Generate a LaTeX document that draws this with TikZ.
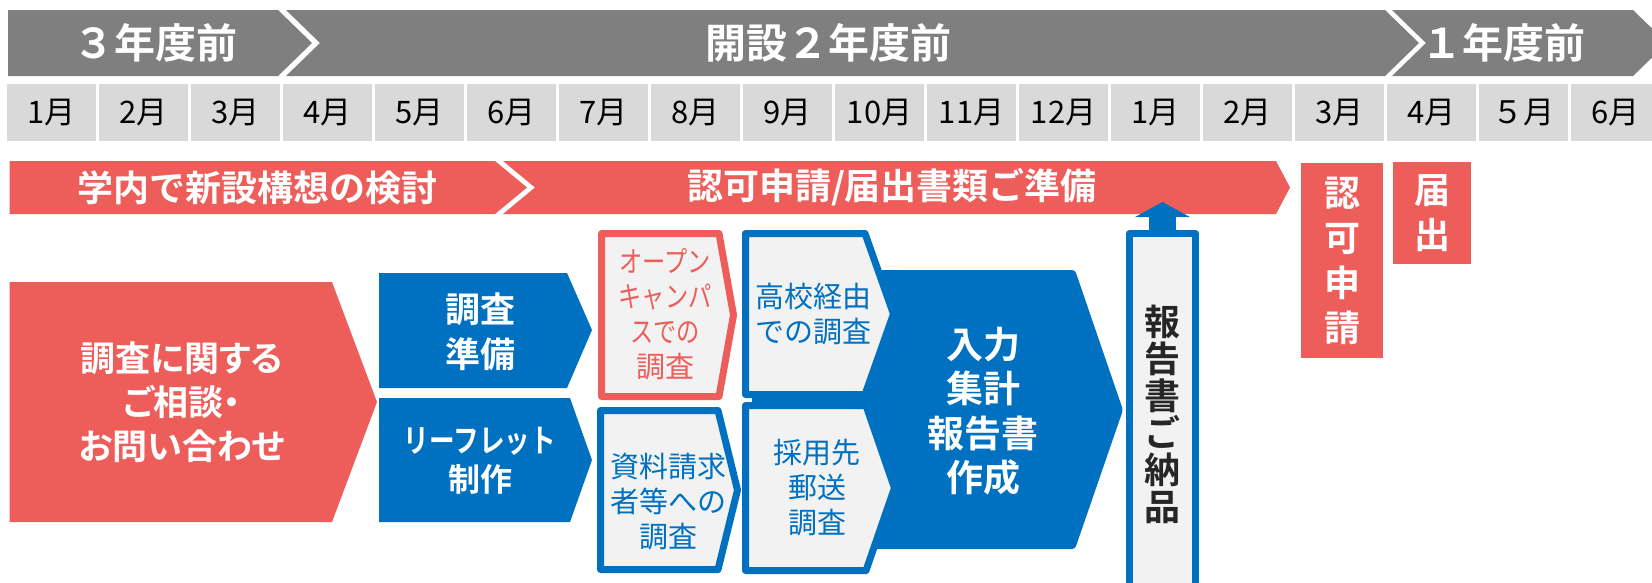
\documentclass[tikz,border=0pt]{standalone}
\usepackage{fontspec}
\setmainfont{Noto Sans CJK JP}[BoldFont={Noto Sans CJK JP Bold}]
\newfontfamily\propjp{Noto Sans CJK JP}[BoldFont={Noto Sans CJK JP Bold},
  Script=CJK,RawFeature=+palt]
\newfontfamily\narrowjp{Noto Sans CJK JP}[BoldFont={Noto Sans CJK JP Bold},
  FakeStretch=0.8]
\usetikzlibrary{arrows.meta}
\definecolor{bandgray}{HTML}{7F7F7F}
\definecolor{cellgray}{HTML}{D9D9D9}
\definecolor{sred}{HTML}{ED5E5A}
\definecolor{sblue}{HTML}{0070C0}
\definecolor{boxgray}{HTML}{F2F2F2}
\definecolor{inkdark}{HTML}{262626}
\begin{document}
\begin{tikzpicture}[x=1pt,y=-1pt,
    yearlabel/.style={text=white,font=\bfseries\fontsize{41}{41}\selectfont},
    monthcell/.style={fill=cellgray,minimum width=89pt,minimum height=57pt,inner sep=0pt,
      font=\fontsize{31}{31}\selectfont},
    bandlabel/.style={text=white,font=\bfseries\fontsize{36}{36}\selectfont},
    redbox/.style={fill=sred,text=white,inner sep=0pt,align=center,
      font=\bfseries\fontsize{36}{45}\selectfont},
    boldtext/.style={text=white,align=center,inner sep=0pt},
    thintext/.style={align=center,inner sep=0pt,font=\fontsize{29}{35}\selectfont},
    boxline/.style={fill=boxgray,line width=7pt,line join=round}]
  \useasboundingbox (0,0) rectangle (1652,582);

  \begin{scope}[bandgray]
    \fill (8,10) -- (278,10) -- (312,43) -- (278,76) -- (8,76) -- cycle;
    \fill (286,10) -- (1385,10) -- (1419,43) -- (1385,76) -- (286,76) --
          (320,43) -- cycle;
    \fill (1392,10) -- (1633,10) -- (1667,43) -- (1633,76) -- (1392,76) --
          (1426,43) -- cycle;
  \end{scope}
  \node[yearlabel] (y3) at (155,43) {３年度前};
  \node[yearlabel] (y2) at (828,43) {開設２年度前};
  \node[yearlabel] (y1) at (1503,43) {１年度前};

  \foreach \m [count=\i from 0] in {1月,2月,3月,4月,5月,6月,7月,8月,9月,
      10月,11月,12月,1月,2月,3月,4月,５月,6月}
    \node[monthcell] (m\i) at (51.5+92*\i,112.5) {\m};

  \begin{scope}[sred]
    \fill (9.5,161) -- (495,161) -- (527,187.5) -- (495,214) -- (9.5,214) -- cycle;
    \fill (503,161) -- (1276,161) -- (1290,187.5) -- (1276,214) -- (503,214) --
          (535,187.5) -- cycle;
  \end{scope}
  \node[bandlabel] (plan) at (257,187.5) {学内で新設構想の検討};
  \node[bandlabel] (docs) at (892,187.5) {認可申請/届出書類ご準備};
  \node[redbox,minimum width=82pt,minimum height=195pt] (kyoka) at (1342,260.5)
    {認\\可\\申\\請};
  \node[redbox,minimum width=78pt,minimum height=102pt] (todoke) at (1432,213)
    {届\\出};

  \fill[sred] (9.5,282) -- (332,282) -- (377,402) -- (332,522) -- (9.5,522) -- cycle;
  \node[boldtext,font=\propjp\bfseries\fontsize{35}{44}\selectfont] (soudan)
    at (182,402) {調査に関する\\ご相談・\\お問い合わせ};

  \begin{scope}[sblue]
    \fill (379,273) -- (567,273) -- (592,330) -- (567,388) -- (379,388) -- cycle;
    \fill (379,398) -- (570,398) -- (592,460) -- (570,522) -- (379,522) -- cycle;
    \fill[rounded corners=3pt] (752,270) -- (1075,270) -- (1123,410) --
          (1075,549) -- (752,549) -- cycle;
  \end{scope}
  \node[boldtext,font=\bfseries\fontsize{35}{45}\selectfont] (junbi) at (480,332)
    {調査\\準備};
  \node[boldtext,font=\bfseries\fontsize{32}{39}\selectfont] (leaflet)
    at (480,461) {{\narrowjp リーフレット}\\制作};

  \filldraw[boxline,draw=sred] (601.5,233.5) -- (719,233.5) -- (733.5,315) --
    (719,396.5) -- (601.5,396.5) -- cycle;
  \filldraw[boxline,draw=sblue] (600.5,410.5) -- (718,410.5) -- (737.5,490) --
    (718,569.5) -- (600.5,569.5) -- cycle;
  \filldraw[boxline,draw=sblue] (745.5,233.5) -- (865,233.5) -- (893.5,314) --
    (865,394.5) -- (745.5,394.5) -- cycle;
  \filldraw[boxline,draw=sblue] (745.5,405.5) -- (866,405.5) -- (894.5,488) --
    (866,570.5) -- (745.5,570.5) -- cycle;
  \node[thintext,text=sred] (opencampus) at (665,314)
    {{\narrowjp オープン}\\{\narrowjp キャンパ}\\{\narrowjp スでの}\\調査};
  \node[thintext,text=sblue] (shiryou) at (668,502) {資料請求\\者等への\\調査};
  \node[thintext,text=sblue] (koukou) at (813,314) {高校経由\\での調査};
  \node[thintext,text=sblue] (saiyou) at (817,488) {採用先\\郵送\\調査};
  \node[boldtext,font=\bfseries\fontsize{37}{44.5}\selectfont] (shukei) at (983,411)
    {入力\\集計\\報告書\\作成};

  \node[boxline,draw=sblue,minimum width=66pt,minimum height=362pt,anchor=north,
    inner sep=0pt,align=center,text=inkdark,
    font=\bfseries\fontsize{36}{37}\selectfont] (report) at (1162.5,230)
    {報\\告\\書\\ご\\納\\品};
  \coordinate (reporttip) at (1160,202);
  \draw[sblue,line width=27pt,-{Triangle[width=54pt,length=15pt]}]
    (report.north) -- (report.north |- reporttip);
\end{tikzpicture}
\end{document}
